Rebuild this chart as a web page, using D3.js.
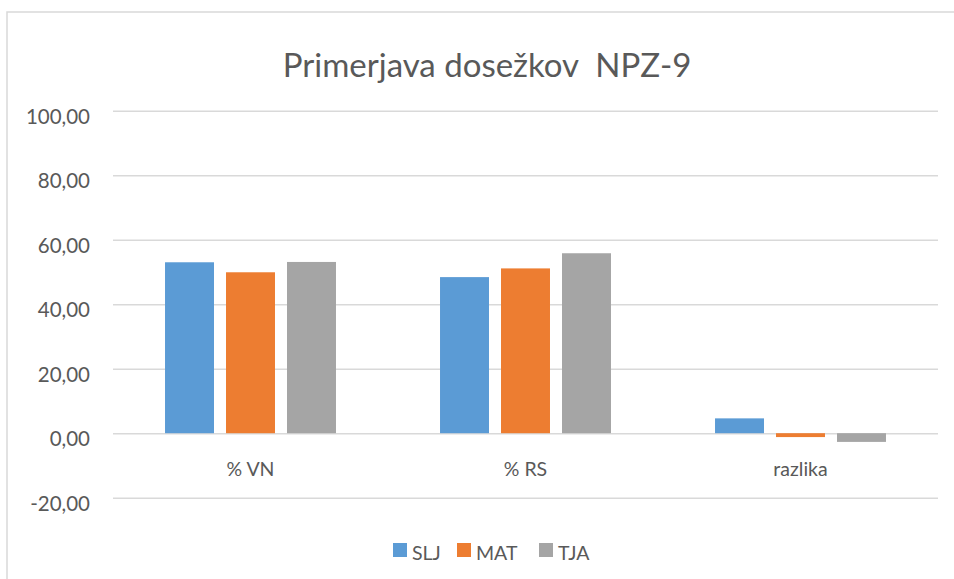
<!DOCTYPE html>
<html><head><meta charset="utf-8">
<script src="https://cdn.jsdelivr.net/npm/d3@7"></script>
<style>body{margin:0;background:#fff}svg{display:block}</style>
</head><body>
<script>
const categories = ["% VN", "% RS", "razlika"];
const seriesNames = ["SLJ", "MAT", "TJA"];
const SLJ = [53.0, 48.4, 4.6];
const MAT = [49.9, 51.1, -1.2];
const TJA = [53.1, 55.8, -2.7];
const seriesValues = [SLJ, MAT, TJA];
const colors = ["#5B9BD5", "#ED7D31", "#A5A5A5"];
const yTicks = [-20, 0, 20, 40, 60, 80, 100];
const title = "Primerjava dosežkov  NPZ-9";

const W = 954, H = 579;
const font = "Lato, 'Open Sans', sans-serif";
const txt = "#595959";
const svg = d3.select("body").append("svg").attr("width", W).attr("height", H);

svg.append("rect").attr("x", 7).attr("y", 12).attr("width", 1000).attr("height", 1000)
  .attr("fill", "#fff").attr("stroke", "#D9D9D9").attr("stroke-width", 1.5);

const y = d3.scaleLinear().domain([-20, 100]).range([497.7, 110.7]);
const x0 = d3.scaleBand().domain(categories).range([113, 938]).padding(0);
const x1 = d3.scaleBand().domain(seriesNames).range([0, x0.bandwidth()])
  .paddingInner(0.197).paddingOuter(0.853);

// gridlines
const yAxis = d3.axisLeft(y).tickValues(yTicks).tickSize(-(938 - 113))
  .tickFormat(d => d3.format(".2f")(d).replace(".", ",").replace("\u2212", "-"));
const ga = svg.append("g").attr("transform", "translate(113,0)").call(yAxis);
ga.select(".domain").remove();
ga.selectAll(".tick line").attr("stroke", "#D9D9D9").attr("stroke-width", 1.5);
ga.selectAll(".tick text").attr("x", -23).attr("dy", "0.62em")
  .attr("fill", txt).style("font-family", font).style("font-size", "20.5px");

// bars
const groups = svg.append("g").selectAll("g").data(categories).join("g")
  .attr("transform", d => `translate(${x0(d)},0)`);
groups.selectAll("rect").data((c, i) => seriesNames.map((s, j) => ({s, v: seriesValues[j][i], j})))
  .join("rect")
  .attr("x", d => x1(d.s)).attr("width", x1.bandwidth())
  .attr("y", d => y(Math.max(0, d.v))).attr("height", d => Math.abs(y(d.v) - y(0)))
  .attr("fill", d => colors[d.j]);

// category labels
svg.append("g").selectAll("text").data(categories).join("text")
  .attr("x", d => x0(d) + x0.bandwidth() / 2).attr("y", 476)
  .attr("text-anchor", "middle").attr("fill", txt)
  .style("font-family", font).style("font-size", "19.5px").text(d => d);

// title
svg.append("text").attr("x", 487).attr("y", 77).attr("text-anchor", "middle")
  .style("white-space", "pre")
  .attr("fill", txt).style("font-family", font).style("font-size", "33px").text(title);

// legend
const legX = [393, 457, 539];
const leg = svg.append("g").selectAll("g").data(seriesNames).join("g")
  .attr("transform", (d, i) => `translate(${legX[i]},543)`);
leg.append("rect").attr("width", 14).attr("height", 14).attr("fill", (d, i) => colors[i]);
leg.append("text").attr("x", 19).attr("y", 17).attr("fill", txt)
  .style("font-family", font).style("font-size", "19.5px").text(d => d);
</script>
</body></html>
